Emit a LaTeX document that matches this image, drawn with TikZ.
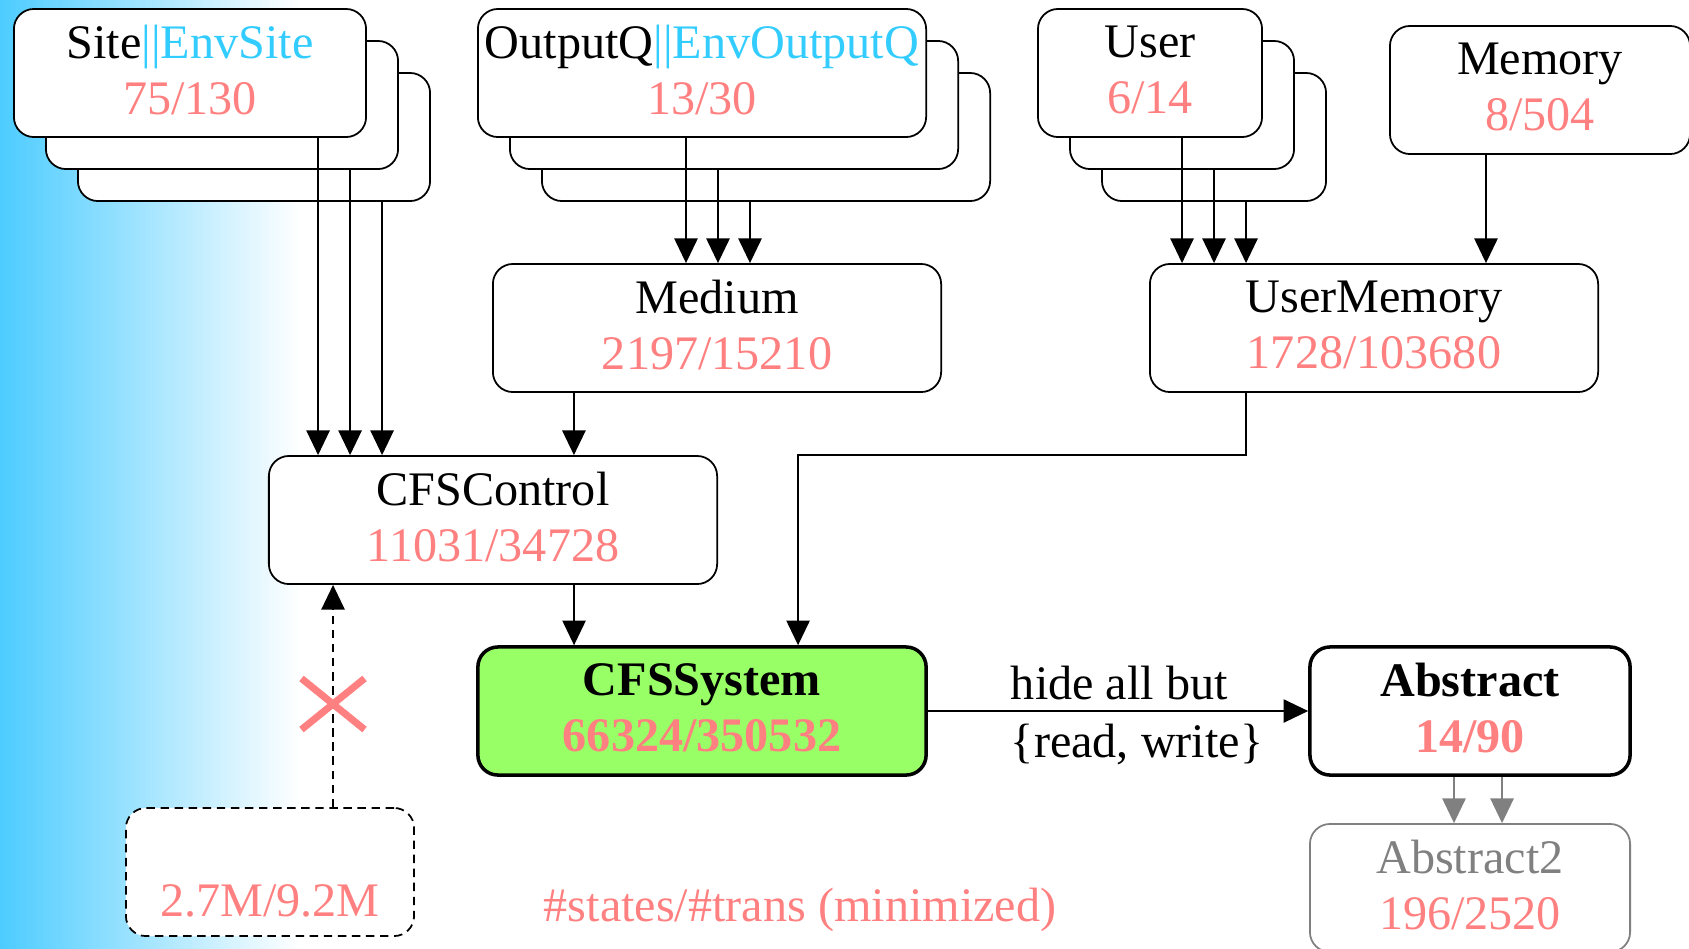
\documentclass[tikz,border=0pt]{standalone}
\usepackage{fontspec}
\setmainfont{Liberation Serif}
\usetikzlibrary{arrows.meta,shapes.misc}
\definecolor{numpink}{HTML}{FF8080}
\definecolor{envblue}{HTML}{33CCFF}
\definecolor{sysgreen}{HTML}{99FF66}
\definecolor{bgcyan}{HTML}{4DCCFF}
\newcommand{\stcount}[1]{\textcolor{numpink}{#1}}
\newcommand{\envname}[1]{\textcolor{envblue}{#1}}

\begin{document}
\fontsize{13.7pt}{15.9pt}\selectfont
\begin{tikzpicture}[x=0.01cm, y=-0.01cm,
  box/.style={draw, fill=white, rounded corners=5.7pt, line width=0.5pt, align=center, inner sep=0pt, text depth=2pt, minimum height=1.28cm},
  bold box/.style={box, line width=1pt, font=\bfseries},
  arr/.style={-{Triangle[length=7pt,width=6.6pt]}, line width=0.5pt}]
\useasboundingbox (0,0) rectangle (1689,948);
\clip (0,0) rectangle (1689,948);
\shade[left color=bgcyan, right color=white] (0,0) rectangle (300,948);

% component stacks
\node[box, minimum width=3.52cm] (site3) at (254,137) {};
\node[box, minimum width=3.52cm] (site2) at (222,105) {};
\node[box, minimum width=3.52cm] (site) at (190,73) {Site\envname{||EnvSite}\\\stcount{75/130}};
\node[box, minimum width=4.48cm] (outq3) at (766,137) {};
\node[box, minimum width=4.48cm] (outq2) at (734,105) {};
\node[box, minimum width=4.48cm] (outq) at (702,73) {OutputQ\envname{||EnvOutputQ}\\\stcount{13/30}};
\node[box, minimum width=2.24cm] (user3) at (1214,137) {};
\node[box, minimum width=2.24cm] (user2) at (1182,105) {};
\node[box, minimum width=2.24cm] (user) at (1150,73) {User\\\stcount{6/14}};
\node[box, minimum width=3cm] (mem) at (1540,90) {Memory\\\stcount{8/504}};

\node[box, minimum width=4.48cm] (medium) at (717,328) {Medium\\\stcount{2197/15210}};
\node[box, minimum width=4.48cm] (usermem) at (1374,328) {UserMemory\\\stcount{1728/103680}};
\node[box, minimum width=4.48cm] (ctrl) at (493,520) {CFSControl\\\stcount{11031/34728}};
\node[bold box, fill=sysgreen, minimum width=4.48cm] (sys) at (702,711) {CFSSystem\\\stcount{66324/350532}};
\node[bold box, minimum width=3.2cm] (abs) at (1470,711) {Abstract\\\stcount{14/90}};
\node[box, draw=gray, text=gray, minimum width=3.2cm] (abs2) at (1470,888) {Abstract2\\\stcount{196/2520}};
\node[box, dash pattern=on 2.4pt off 1.6pt, minimum width=2.88cm] (full) at (270,872) {\strut\\\stcount{2.7M/9.2M}};
\node[text=numpink] (legend) at (800,910) {\#states/\#trans (minimized)};

% composition arrows
\foreach \n in {site,site2,site3}
  \draw[arr] ([xshift=1.28cm]\n.south) -- ([xshift=1.28cm]\n.south |- ctrl.north);
\foreach \n in {outq,outq2,outq3}
  \draw[arr] ([xshift=-0.16cm]\n.south) -- ([xshift=-0.16cm]\n.south |- medium.north);
\foreach \n in {user,user2,user3}
  \draw[arr] ([xshift=0.32cm]\n.south) -- ([xshift=0.32cm]\n.south |- usermem.north);
\draw[arr] ([xshift=-0.54cm]mem.south) -- ([xshift=-0.54cm]mem.south |- usermem.north);
\draw[arr] ([xshift=-1.43cm]medium.south) -- ([xshift=-1.43cm]medium.south |- ctrl.north);
\draw[arr] ([xshift=0.81cm]ctrl.south) -- ([xshift=0.81cm]ctrl.south |- sys.north);
\draw[arr] ([xshift=-1.28cm]usermem.south) |- ([xshift=0.96cm]sys.north |- ctrl.north) -- ([xshift=0.96cm]sys.north);
\draw[arr] (sys.east) -- (abs.west) node[midway, align=left, xshift=0.19cm, yshift=-1.2pt, font=\fontsize{13.7pt}{16.5pt}\selectfont] (hide) {hide all but\\\{read, write\}};
\foreach \dx in {-0.16cm,0.32cm}
  \draw[arr, gray] ([xshift=\dx]abs.south) -- ([xshift=\dx]abs2.north);

% unminimized product
\draw[arr, dash pattern=on 2.4pt off 1.6pt] ([xshift=0.63cm]full.north) -- ([xshift=0.63cm]full.north |- ctrl.south);
\node[cross out, draw=numpink, line width=2pt, inner sep=0pt, minimum width=0.56cm, minimum height=0.44cm] (cut) at (333,704) {};
\end{tikzpicture}
\end{document}
